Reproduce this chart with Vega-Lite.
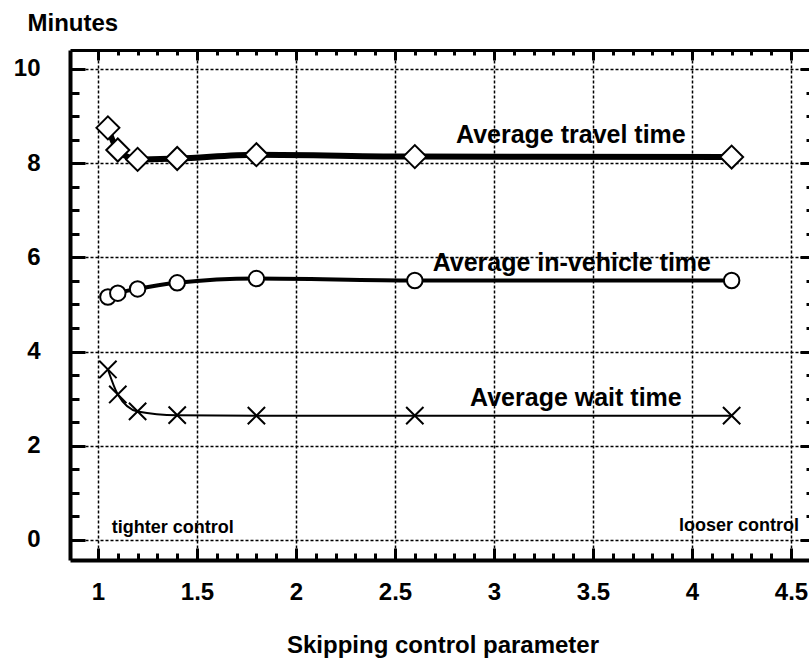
{
  "$schema": "https://vega.github.io/schema/vega-lite/v6.json",
  "autosize": "none",
  "width": 745,
  "height": 510,
  "padding": {"left": 70, "top": 50, "right": 0, "bottom": 103},
  "background": "white",
  "config": {
    "view": {"stroke": null},
    "font": "Liberation Sans",
    "axis": {"labelFont": "Liberation Sans", "titleFont": "Liberation Sans", "tickColor": "black", "domainColor": "black", "labelColor": "black", "titleColor": "black"}
  },
  "data": {
    "values": [
      {"s": "travel", "x": 1.05, "y": 8.75}, {"s": "travel", "x": 1.1, "y": 8.28}, {"s": "travel", "x": 1.2, "y": 8.08}, {"s": "travel", "x": 1.4, "y": 8.1}, {"s": "travel", "x": 1.8, "y": 8.18}, {"s": "travel", "x": 2.6, "y": 8.14}, {"s": "travel", "x": 4.2, "y": 8.13},
      {"s": "inveh", "x": 1.05, "y": 5.16}, {"s": "inveh", "x": 1.1, "y": 5.24}, {"s": "inveh", "x": 1.2, "y": 5.33}, {"s": "inveh", "x": 1.4, "y": 5.46}, {"s": "inveh", "x": 1.8, "y": 5.55}, {"s": "inveh", "x": 2.6, "y": 5.51}, {"s": "inveh", "x": 4.2, "y": 5.51},
      {"s": "wait", "x": 1.05, "y": 3.62}, {"s": "wait", "x": 1.1, "y": 3.09}, {"s": "wait", "x": 1.2, "y": 2.73}, {"s": "wait", "x": 1.4, "y": 2.65}, {"s": "wait", "x": 1.8, "y": 2.64}, {"s": "wait", "x": 2.6, "y": 2.64}, {"s": "wait", "x": 4.2, "y": 2.64}
    ]
  },
  "resolve": {"axis": {"x": "independent", "y": "independent"}},
  "layer": [
    {
      "transform": [{"filter": "datum.s === 'travel'"}],
      "mark": {"type": "line", "color": "black", "strokeWidth": 6, "interpolate": "monotone"},
      "encoding": {
        "x": {"field": "x", "type": "quantitative", "scale": {"domain": [0.8586, 4.621], "nice": false, "zero": false},
          "axis": {"orient": "bottom", "values": [1, 1.5, 2, 2.5, 3, 3.5, 4, 4.5], "format": "~r", "tickSize": -12, "tickWidth": 3, "domainWidth": 4, "grid": true, "gridColor": "black", "gridDash": [3, 2], "gridWidth": 1.5, "gridOpacity": 1, "labelFontSize": 24, "labelFontWeight": "bold", "labelPadding": 32, "labelFlush": false, "labelOverlap": false, "title": "Skipping control parameter", "titleFontSize": 24, "titleFontWeight": "bold", "titleBaseline": "alphabetic", "titleY": 92}},
        "y": {"field": "y", "type": "quantitative", "scale": {"domain": [-0.425, 10.403], "nice": false, "zero": false},
          "axis": {"orient": "left", "values": [0, 2, 4, 6, 8, 10], "format": "d", "tickSize": -15, "tickWidth": 3, "domainWidth": 4, "grid": true, "gridColor": "black", "gridDash": [3, 2], "gridWidth": 1.5, "gridOpacity": 1, "labelFontSize": 24, "labelFontWeight": "bold", "labelPadding": 45, "labelFlush": false, "labelOverlap": false, "title": "Minutes", "titleFontSize": 24, "titleFontWeight": "bold", "titleAngle": 0, "titleAlign": "left", "titleBaseline": "alphabetic", "titleX": -43, "titleY": -20}}
      }
    },
    {
      "transform": [{"filter": "datum.s === 'inveh'"}],
      "mark": {"type": "line", "color": "black", "strokeWidth": 4, "interpolate": "monotone"},
      "encoding": {
        "x": {"field": "x", "type": "quantitative",
          "axis": {"orient": "bottom", "values": [1.1, 1.2, 1.3, 1.4, 1.6, 1.7, 1.8, 1.9, 2.1, 2.2, 2.3, 2.4, 2.6, 2.7, 2.8, 2.9, 3.1, 3.2, 3.3, 3.4, 3.6, 3.7, 3.8, 3.9, 4.1, 4.2, 4.3, 4.4], "tickSize": -7, "tickWidth": 3, "domain": false, "grid": false, "labels": false, "title": null}},
        "y": {"field": "y", "type": "quantitative",
          "axis": {"orient": "left", "values": [0.5, 1, 1.5, 2.5, 3, 3.5, 4.5, 5, 5.5, 6.5, 7, 7.5, 8.5, 9, 9.5], "tickSize": -9, "tickWidth": 3, "domain": false, "grid": false, "labels": false, "title": null}}
      }
    },
    {
      "transform": [{"filter": "datum.s === 'wait'"}],
      "mark": {"type": "line", "color": "black", "strokeWidth": 2, "interpolate": "monotone"},
      "encoding": {
        "x": {"field": "x", "type": "quantitative",
          "axis": {"orient": "top", "values": [1, 1.5, 2, 2.5, 3, 3.5, 4, 4.5], "tickSize": -10, "tickWidth": 3, "domainWidth": 3, "grid": false, "labels": false, "title": null}},
        "y": {"field": "y", "type": "quantitative",
          "axis": {"orient": "right", "values": [0, 2, 4, 6, 8, 10], "tickSize": -15, "tickWidth": 3, "domainWidth": 4, "grid": false, "labels": false, "title": null}}
      }
    },
    {
      "transform": [{"filter": "datum.s === 'travel'"}],
      "mark": {"type": "point", "shape": "diamond", "size": 529, "filled": true, "fill": "white", "stroke": "black", "strokeWidth": 2, "opacity": 1},
      "encoding": {
        "x": {"field": "x", "type": "quantitative",
          "axis": {"orient": "top", "values": [1.1, 1.2, 1.3, 1.4, 1.6, 1.7, 1.8, 1.9, 2.1, 2.2, 2.3, 2.4, 2.6, 2.7, 2.8, 2.9, 3.1, 3.2, 3.3, 3.4, 3.6, 3.7, 3.8, 3.9, 4.1, 4.2, 4.3, 4.4], "tickSize": -5, "tickWidth": 3, "domain": false, "grid": false, "labels": false, "title": null}},
        "y": {"field": "y", "type": "quantitative",
          "axis": {"orient": "right", "values": [0.5, 1, 1.5, 2.5, 3, 3.5, 4.5, 5, 5.5, 6.5, 7, 7.5, 8.5, 9, 9.5], "tickSize": -9, "tickWidth": 3, "domain": false, "grid": false, "labels": false, "title": null}}
      }
    },
    {
      "transform": [{"filter": "datum.s === 'inveh'"}],
      "mark": {"type": "point", "shape": "circle", "size": 240, "filled": true, "fill": "white", "stroke": "black", "strokeWidth": 2, "opacity": 1},
      "encoding": {
        "x": {"field": "x", "type": "quantitative", "axis": null},
        "y": {"field": "y", "type": "quantitative", "axis": null}
      }
    },
    {
      "transform": [{"filter": "datum.s === 'wait'"}],
      "mark": {"type": "point", "shape": "M-1,-1L1,1M-1,1L1,-1", "size": 300, "filled": false, "stroke": "black", "strokeWidth": 2, "opacity": 1},
      "encoding": {
        "x": {"field": "x", "type": "quantitative", "axis": null},
        "y": {"field": "y", "type": "quantitative", "axis": null}
      }
    },
    {
      "data": {"values": [
        {"label": "Average travel time", "x": 2.808, "y": 8.43},
        {"label": "Average in-vehicle time", "x": 2.69, "y": 5.72},
        {"label": "Average wait time", "x": 2.879, "y": 2.85}
      ]},
      "mark": {"type": "text", "align": "left", "baseline": "alphabetic", "font": "Liberation Sans", "fontWeight": "bold", "fontSize": 25, "color": "black"},
      "encoding": {
        "x": {"field": "x", "type": "quantitative", "axis": null},
        "y": {"field": "y", "type": "quantitative", "axis": null},
        "text": {"field": "label"}
      }
    },
    {
      "data": {"values": [{"label": "tighter control", "x": 1.07, "y": 0.15}]},
      "mark": {"type": "text", "align": "left", "baseline": "alphabetic", "font": "Liberation Sans", "fontWeight": "bold", "fontSize": 18, "color": "black"},
      "encoding": {
        "x": {"field": "x", "type": "quantitative", "axis": null},
        "y": {"field": "y", "type": "quantitative", "axis": null},
        "text": {"field": "label"}
      }
    },
    {
      "data": {"values": [{"label": "looser control", "x": 4.54, "y": 0.19}]},
      "mark": {"type": "text", "align": "right", "baseline": "alphabetic", "font": "Liberation Sans", "fontWeight": "bold", "fontSize": 18, "color": "black"},
      "encoding": {
        "x": {"field": "x", "type": "quantitative", "axis": null},
        "y": {"field": "y", "type": "quantitative", "axis": null},
        "text": {"field": "label"}
      }
    }
  ]
}
